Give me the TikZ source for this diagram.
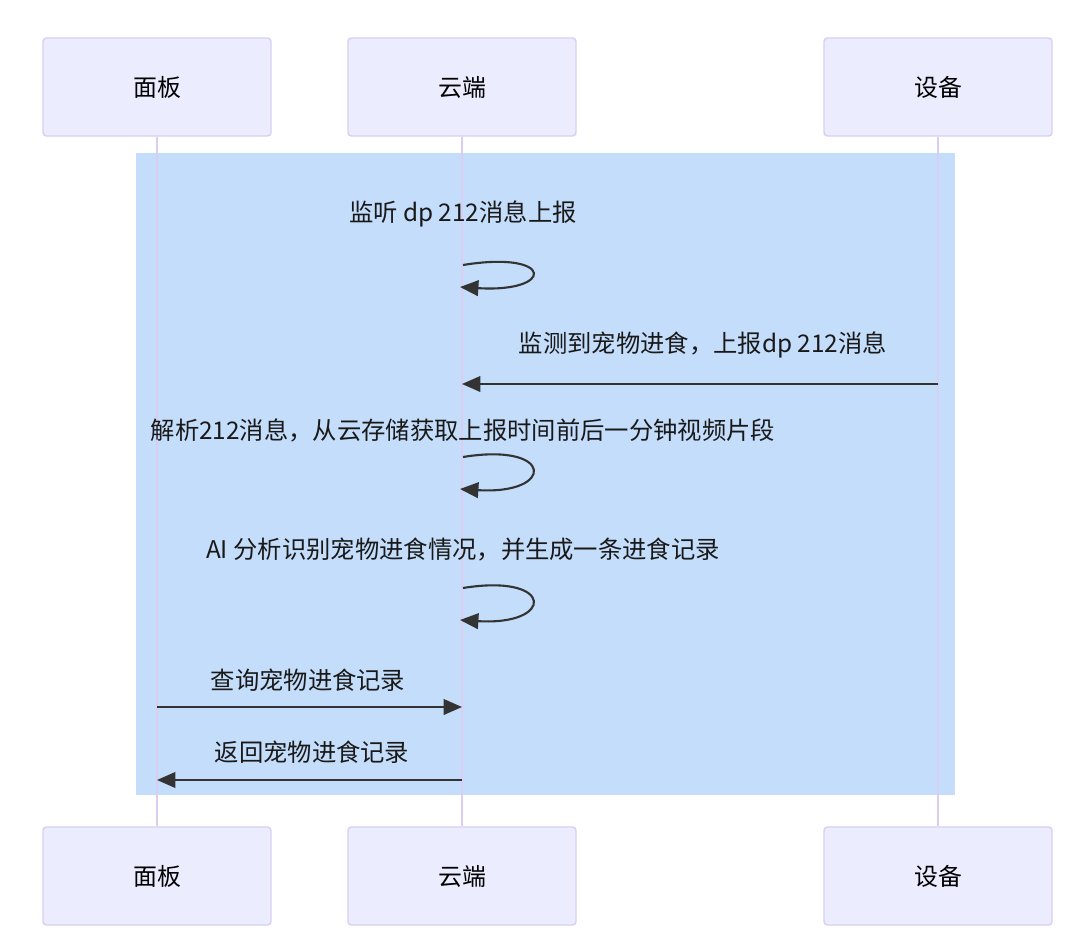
\documentclass[tikz,border=0pt]{standalone}
\usepackage{fontspec}
\setmainfont{Noto Sans CJK SC}
\usetikzlibrary{arrows.meta}
\definecolor{actfill}{HTML}{ECECFF}
\definecolor{actline}{HTML}{D9CEF2}
\definecolor{rectblue}{HTML}{C4DDFA}
\definecolor{msgline}{HTML}{333333}
\tikzset{
  actor/.style={draw=actline,fill=actfill,line width=1pt,rounded corners=2.5pt,
    minimum width=5.7cm,minimum height=2.45cm,font=\fontsize{17}{20}\selectfont},
  life/.style={draw=actline,line width=1.3pt},
  msg/.style={draw=msgline,line width=1.5pt,->},
  msgtext/.style={font=\fontsize{17.3}{20}\selectfont,text=black!90}
}
\begin{document}
\begin{tikzpicture}[x=0.025cm,y=-0.025cm,>={Triangle[length=4.6mm,width=3.9mm]}]
\useasboundingbox (0,0) rectangle (1080,952);
% background block
\fill[rectblue] (136,153) rectangle (955,795);
% actors
\node[actor] (pnl) at (157,87) {面板};
\node[actor] (cld) at (462,87) {云端};
\node[actor] (dev) at (938,87) {设备};
\node[actor] (pnlB) at (157,876) {面板};
\node[actor] (cldB) at (462,876) {云端};
\node[actor] (devB) at (938,876) {设备};
\draw[life] (pnl) -- (pnlB);
\draw[life] (cld) -- (cldB);
\draw[life] (dev) -- (devB);
% points on the lifelines
\coordinate (c1a) at (463,265); \coordinate (c1b) at (460,287);
\coordinate (d2) at (938,384);  \coordinate (c2) at (462,384);
\coordinate (c3a) at (463,457); \coordinate (c3b) at (460,489);
\coordinate (c4a) at (463,588); \coordinate (c4b) at (460,620);
\coordinate (p5) at (157,707);  \coordinate (c5) at (462,707);
\coordinate (c6) at (462,780);  \coordinate (p6) at (157,780);
% messages
\node[msgtext] (t1) at (463,214) {监听 dp 212消息上报};
\draw[msg] (c1a) .. controls (555,250) and (555,293) .. (c1b);
\node[msgtext] (t2) at (703,345) {监测到宠物进食，上报dp 212消息};
\draw[msg] (d2) -- (c2);
\node[msgtext] (t3) at (463,430) {解析212消息，从云存储获取上报时间前后一分钟视频片段};
\draw[msg] (c3a) .. controls (555,442) and (555,495) .. (c3b);
\node[msgtext] (t4) at (463,549) {AI 分析识别宠物进食情况，并生成一条进食记录};
\draw[msg] (c4a) .. controls (555,573) and (555,626) .. (c4b);
\node[msgtext] (t5) at (308,680) {查询宠物进食记录};
\draw[msg] (p5) -- (c5);
\node[msgtext] (t6) at (312,752) {返回宠物进食记录};
\draw[msg] (c6) -- (p6);
\end{tikzpicture}
\end{document}
